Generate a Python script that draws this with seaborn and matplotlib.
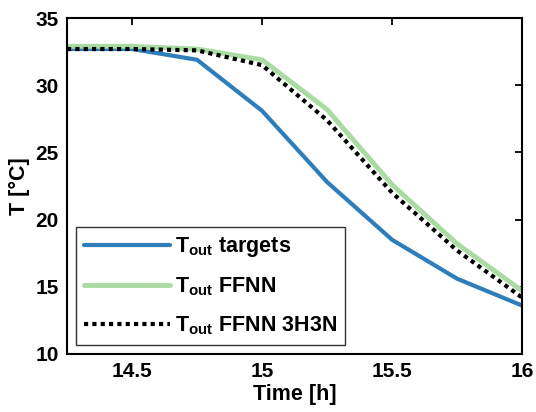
import matplotlib
matplotlib.use("Agg")
import matplotlib.pyplot as plt
import seaborn as sns
import pandas as pd

time_h = [14.25, 14.5, 14.75, 15.0, 15.25, 15.5, 15.75, 16.0]
t_targets = [32.7, 32.7, 31.9, 28.1, 22.8, 18.5, 15.6, 13.6]
t_ffnn = [32.9, 32.9, 32.7, 31.9, 28.2, 22.6, 18.2, 14.7]
t_ffnn_3h3n = [32.7, 32.7, 32.6, 31.5, 27.4, 22.0, 17.7, 14.2]

labels = [r"T$_{\mathbf{out}}$ targets", r"T$_{\mathbf{out}}$ FFNN", r"T$_{\mathbf{out}}$ FFNN 3H3N"]
x_ticks = [14.5, 15, 15.5, 16]
x_tick_labels = ["14.5", "15", "15.5", "16"]
y_ticks = [10, 15, 20, 25, 30, 35]

sns.set_style("white")
plt.rcParams["font.family"] = ["Liberation Sans", "DejaVu Sans"]
plt.rcParams["font.weight"] = "bold"
plt.rcParams["text.color"] = "black"
plt.rcParams["axes.labelcolor"] = "black"
plt.rcParams["xtick.color"] = "black"
plt.rcParams["ytick.color"] = "black"
plt.rcParams["mathtext.fontset"] = "custom"
plt.rcParams["mathtext.rm"] = "Liberation Sans:bold"
plt.rcParams["mathtext.bf"] = "Liberation Sans:bold"
plt.rcParams["mathtext.default"] = "bf"

fig = plt.figure(figsize=(5.36, 4.12), dpi=100)
ax = fig.add_axes([0.125, 0.141, 0.849, 0.815])

df = pd.DataFrame({"t": time_h, "a": t_targets, "b": t_ffnn, "c": t_ffnn_3h3n})
sns.lineplot(data=df, x="t", y="a", ax=ax, color="#2e7ebc", linewidth=3.0, label=labels[0])
sns.lineplot(data=df, x="t", y="b", ax=ax, color="#a9dba2", linewidth=3.5, label=labels[1])
sns.lineplot(data=df, x="t", y="c", ax=ax, color="black", linewidth=3.0, linestyle=(0, (1, 1)), label=labels[2])

ax.set_xlim(14.25, 16)
ax.set_ylim(10, 35)
ax.set_xticks(x_ticks)
ax.set_xticklabels(x_tick_labels)
ax.set_yticks(y_ticks)
ax.tick_params(direction="in", length=5, width=1.3, top=True, right=True, labelsize=15, pad=6)
for lab in ax.get_xticklabels() + ax.get_yticklabels():
    lab.set_fontweight("bold")
for s in ax.spines.values():
    s.set_linewidth(1.5)
    s.set_color("black")
ax.set_xlabel("Time [h]", fontsize=15.5, fontweight="bold", labelpad=2)
ax.set_ylabel("T [°C]", fontsize=15.5, fontweight="bold", labelpad=4)

leg = ax.legend(loc="lower left", fontsize=15.5, frameon=True, fancybox=False,
                edgecolor="black", handlelength=4.0, handletextpad=0.2,
                borderaxespad=0.4, labelspacing=0.75, borderpad=0.4)
leg.get_frame().set_linewidth(1.0)

fig.savefig("out.png", dpi=100)
